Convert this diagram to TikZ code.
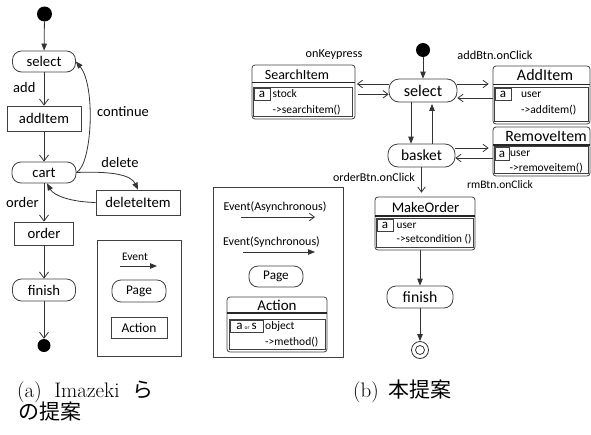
\documentclass[tikz,border=0pt]{standalone}
\usepackage{fontspec}
\newfontfamily\carl{Carlito}
\newfontfamily\cjk{Noto Sans CJK JP}
\usetikzlibrary{arrows.meta,calc}
\begin{document}
\begin{tikzpicture}[x=1pt,y=-1pt,
  fs/.style={font=\carl\fontsize{#1}{#1}\selectfont},
  pg/.style={draw=black!75, line width=0.8pt, rounded corners=9pt, inner sep=0pt},
  ac/.style={draw=black!75, line width=0.8pt, inner sep=0pt},
  box/.style={draw=black!75, line width=0.8pt, rounded corners=3pt, inner sep=0pt},
  inr/.style={draw=black!75, line width=0.7pt},
  sepl/.style={draw=black!85, line width=1.2pt},
  lbl/.style={inner sep=0pt},
  dot/.style={circle, fill=black, inner sep=0pt},
  asyA/.style={draw=black!80, line width=0.8pt, -{Straight Barb[length=6pt,width=9pt]}},
  asyB/.style={draw=black!80, line width=0.8pt, -{Straight Barb[length=5pt,width=7.5pt]}},
  syn/.style={draw=black!80, line width=0.8pt, -{Triangle[length=7pt,width=5.5pt]}}]
\useasboundingbox (0,0) rectangle (591,434);

% ---------------- (a) ----------------
\node[dot, minimum size=15] (a_init) at (44.5,14) {};
\node[pg, fs=14.7, minimum width=63, minimum height=21] (a_select) at (44,61.5) {select};
\node[ac, fs=14.7, minimum width=74, minimum height=25] (a_add) at (44,118.5) {addItem};
\node[pg, fs=14.7, minimum width=64, minimum height=21] (a_cart) at (44,172.5) {cart};
\node[ac, fs=14.7, minimum width=84, minimum height=25] (a_del) at (138,202.5) {deleteItem};
\node[ac, fs=14.7, minimum width=59, minimum height=23] (a_order) at (44,233.5) {order};
\node[pg, fs=14.7, minimum width=63, minimum height=22] (a_fin) at (44,290) {finish};
\node[dot, minimum size=13] (a_end) at (44,345.5) {};

\draw[syn] (a_init) -- (a_select);
\draw[asyA] (a_select) -- (a_add);
\draw[asyA] (a_add) -- (a_cart);
\draw[asyA] (a_cart) -- (a_order);
\draw[asyA] (a_order) -- (a_fin);
\draw[asyA] (a_fin) -- (a_end);
\draw[syn] (a_cart.east) .. controls (92,165) and (96,86) .. (a_select.east);
\draw[syn] (a_cart.east) .. controls (112,171) and (131,175) .. (a_del.north);
\coordinate (a_cb) at ([xshift=3pt]a_cart.south);
\draw[syn] (a_del.west) .. controls (72,202) and (54,196) .. (a_cb);

\node[lbl, fs=14.5, anchor=west] (a_l_add) at (13,88) {add};
\node[lbl, fs=14.5, anchor=west] (a_l_cont) at (97,112) {continue};
\node[lbl, fs=14.5] (a_l_del) at (120,163) {delete};
\node[lbl, fs=14.5, anchor=west] (a_l_ord) at (6,203) {order};

% legend (a)
\node[ac, minimum width=84, minimum height=116] (a_leg) at (139,298) {};
\node[lbl, fs=11.5] (a_ev) at (135,257) {Event};
\coordinate (a_e1) at (120,266);
\coordinate (a_e2) at (157,266);
\draw[syn] (a_e1) -- (a_e2);
\node[pg, fs=13.3, minimum width=54, minimum height=22] (a_lpage) at (139,291) {Page};
\node[ac, fs=13.4, minimum width=56, minimum height=21] (a_lact) at (139,327.5) {Action};

% ---------------- (b) ----------------
\node[dot, minimum size=14] (b_init) at (423,50) {};
\node[pg, fs=16.2, minimum width=68, minimum height=23, rounded corners=10pt] (b_select) at (423,90.5) {select};
\node[pg, fs=15.5, minimum width=67, minimum height=23, rounded corners=10pt] (b_basket) at (421.5,155.5) {basket};
\node[pg, fs=15.7, minimum width=66, minimum height=22] (b_fin) at (420,297) {finish};
\node[circle, draw=black!80, line width=0.8pt, minimum size=17, inner sep=0pt] (b_end) at (420,350) {};
\draw[black!80, line width=0.8pt] (b_end.center) circle[radius=4.5];

% SearchItem
\node[box, minimum width=103, minimum height=54] (b_search) at (303.5,92) {};
\node[lbl, fs=14] (b_search_t) at (297,74.5) {SearchItem};
\draw[sepl] (252,82.5) -- (355,82.5);
\draw[inr] (253.5,87) rectangle (352.5,116.5);
\draw[inr] (254.5,88) rectangle (270,100);
\node[lbl, fs=13] (b_search_a) at (262,94) {a};
\node[lbl, fs=11.5, anchor=west] (b_search_o) at (272.5,94) {stock};
\node[lbl, fs=11.5, anchor=west] (b_search_m) at (272.5,110) {->searchitem()};

% AddItem
\node[box, minimum width=97, minimum height=58] (b_add) at (541.5,95) {};
\node[lbl, fs=16] (b_add_t) at (545,75) {AddItem};
\draw[sepl] (493,84.5) -- (590,84.5);
\draw[inr] (494.5,87) rectangle (588.5,121.5);
\draw[inr] (495.5,88.5) rectangle (511,100);
\node[lbl, fs=13] (b_add_a) at (503,94) {a};
\node[lbl, fs=11.5, anchor=west] (b_add_o) at (521,95) {user};
\node[lbl, fs=11.5, anchor=west] (b_add_m) at (521,110) {->additem()};

% RemoveItem
\node[box, minimum width=97, minimum height=49] (b_rem) at (541.5,151.5) {};
\node[lbl, fs=15.8] (b_rem_t) at (546,136) {RemoveItem};
\draw[sepl] (493,145) -- (590,145);
\draw[inr] (494.5,146.5) rectangle (588.5,173.5);
\draw[inr] (495,147.5) rectangle (509,160);
\node[lbl, fs=13] (b_rem_a) at (502,154) {a};
\node[lbl, fs=11.5, anchor=west] (b_rem_o) at (510,154) {user};
\node[lbl, fs=11.5, anchor=west] (b_rem_m) at (509.5,168) {->removeitem()};

% MakeOrder
\node[box, minimum width=100, minimum height=53] (b_mk) at (425,223.5) {};
\node[lbl, fs=14.6] (b_mk_t) at (425.5,207) {MakeOrder};
\draw[sepl] (375,216) -- (475,216);
\draw[inr] (376.5,218.5) rectangle (473.5,247.5);
\draw[inr] (377.5,219.5) rectangle (393,231);
\node[lbl, fs=13] (b_mk_a) at (385,225) {a};
\node[lbl, fs=11.2, anchor=west] (b_mk_o) at (396.5,226) {user};
\node[lbl, fs=11.2, anchor=west] (b_mk_m) at (396.5,239) {->setcondition ()};

% arrows (b)
\draw[syn] (b_init) -- (b_select);
\coordinate (p1) at ([yshift=6.5pt]b_select.west);
\draw[asyB, shorten >=1.5pt] (p1) -- (p1 -| b_search.east);
\coordinate (p2) at ([yshift=-3.8pt]b_select.west);
\draw[asyB, shorten <=3pt] (p2 -| b_search.east) -- (p2);
\coordinate (q1) at ([yshift=6.5pt]b_select.east);
\draw[asyB, shorten >=4pt] (q1) -- (q1 -| b_add.west);
\coordinate (q2) at ([yshift=-7.5pt]b_select.east);
\draw[asyB] (q2 -| b_add.west) -- (q2);
\coordinate (r1) at ([yshift=7.5pt]b_basket.east);
\draw[asyB, shorten >=4pt] (r1) -- (r1 -| b_rem.west);
\coordinate (r2) at ([yshift=-2.5pt]b_basket.east);
\draw[asyB] (r2 -| b_rem.west) -- (r2);
\coordinate (s1) at ([xshift=-12pt]b_select.south);
\draw[syn] (s1) -- (s1 |- b_basket.north);
\coordinate (s2) at ([xshift=10.5pt]b_basket.north);
\draw[syn, shorten >=1.5pt] (s2) -- (s2 |- b_select.south);
\draw[asyB, shorten >=4pt] (b_basket.south) -- (b_basket.south |- b_mk.north);
\draw[syn] (b_fin.north |- b_mk.south) -- (b_fin.north);
\draw[syn] (b_fin) -- (b_end);

\node[lbl, fs=12.2] (b_l_key) at (334,55) {onKeypress};
\node[lbl, fs=12.3] (b_l_add) at (495,55) {addBtn.onClick};
\node[lbl, fs=12, anchor=east] (b_l_ord) at (415,177) {orderBtn.onClick};
\node[lbl, fs=11.5] (b_l_rm) at (500,185) {rmBtn.onClick};

% legend (b)
\node[ac, minimum width=130, minimum height=170] (b_leg) at (278,272) {};
\node[lbl, fs=12] (b_ev1) at (275,207) {Event(Asynchronous)};
\coordinate (b_e1) at (241,217);
\coordinate (b_e2) at (315,217);
\draw[asyB] (b_e1) -- (b_e2);
\node[lbl, fs=12] (b_ev2) at (271.5,242) {Event(Synchronous)};
\coordinate (b_e3) at (243,252);
\coordinate (b_e4) at (315,252);
\draw[syn] (b_e3) -- (b_e4);
\node[pg, fs=13.2, minimum width=54, minimum height=21] (b_lpage) at (276,276.5) {Page};
\node[box, minimum width=100, minimum height=55] (b_lact) at (277,324.5) {};
\node[lbl, fs=15] (b_lact_t) at (277,305) {Action};
\draw[sepl] (227,313) -- (327,313);
\draw[inr] (229,319) rectangle (325,349.5);
\draw[inr] (230,320) rectangle (263,332);
\node[lbl, fs=13] (b_lact_a) at (246.5,326) {a\,{\fontsize{5.5}{5.5}\selectfont or}\,s};
\node[lbl, fs=11.5, anchor=west] (b_lact_o) at (265,326) {object};
\node[lbl, fs=11.5, anchor=west] (b_lact_m) at (265,342) {->method()};

% captions
\node[lbl, anchor=base west] (cap_a1) at (17,397) {\fontsize{21}{22}\selectfont (a)\hspace{0.6em}Imazeki\hspace{0.6em}{\cjk ら}};
\node[lbl, anchor=base west] (cap_a2) at (18,419) {\fontsize{21}{22}\selectfont {\cjk の提案}};
\node[lbl, anchor=base west] (cap_b) at (353,397) {\fontsize{21}{22}\selectfont (b)\hspace{0.45em}{\cjk 本提案}};
\end{tikzpicture}
\end{document}
